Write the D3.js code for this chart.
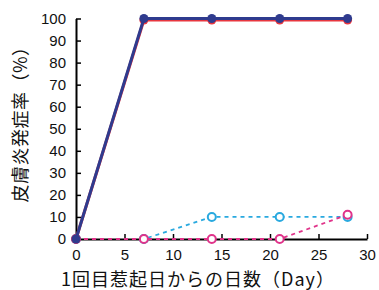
<!DOCTYPE html>
<html lang="ja">
<head>
<meta charset="UTF-8">
<title>chart</title>
<script src="https://d3js.org/d3.v7.min.js"></script>
<style>
  body { margin: 0; background: #fff; }
  text { font-family: "Liberation Sans", Arial, sans-serif; }
  .jp { font-family: "Noto Sans CJK JP", sans-serif; }
</style>
</head>
<body>
<svg id="chart" width="379" height="290"></svg>
<script>
  // days after first challenge
  const days = [0, 7, 14, 21, 28];
  // incidence (%) per group
  const navySeries = [0, 100, 100, 100, 100];
  const redSeries = [0, 99.3, 99.3, 99.3, 99.3];
  const cyanSeries = [0, 0, 10, 10, 10];
  const pinkSeries = [0, 0, 0, 0, 11];

  const xTicks = [0, 5, 10, 15, 20, 25, 30];
  const yTicks = [0, 10, 20, 30, 40, 50, 60, 70, 80, 90, 100];

  const svg = d3.select("#chart");
  const x = d3.scaleLinear().domain([0, 30]).range([76, 367]);
  const y = d3.scaleLinear().domain([0, 100]).range([239, 18.5]);

  // axes, ticks pointing inward
  svg.append("g")
    .attr("transform", "translate(0," + y(0) + ")")
    .call(d3.axisBottom(x).tickValues(xTicks).tickSizeInner(-5).tickSizeOuter(0).tickPadding(10))
    .call(g => g.select(".domain").attr("stroke-width", 2))
    .call(g => g.selectAll(".tick line").attr("stroke-width", 1.5))
    .call(g => g.selectAll("text").attr("font-size", 15).attr("fill", "#111"));

  svg.append("g")
    .attr("transform", "translate(" + x(0) + ",0)")
    .call(d3.axisLeft(y).tickValues(yTicks).tickSizeInner(-5).tickSizeOuter(0).tickPadding(10))
    .call(g => g.select(".domain").attr("stroke-width", 2))
    .call(g => g.selectAll(".tick line").attr("stroke-width", 1.5))
    .call(g => g.selectAll("text").attr("font-size", 15).attr("fill", "#111"));

  const line = d3.line().x(d => x(d[0])).y(d => y(d[1]));
  const pts = vals => days.map((d, i) => [d, vals[i]]);

  // dashed groups with open markers
  function dashed(vals, color) {
    svg.append("path").datum(pts(vals))
      .attr("d", line).attr("fill", "none")
      .attr("stroke", color).attr("stroke-width", 1.8)
      .attr("stroke-dasharray", "4,4");
    svg.append("g").selectAll("circle").data(pts(vals)).join("circle")
      .attr("cx", d => x(d[0])).attr("cy", d => y(d[1]))
      .attr("r", 4).attr("fill", "#fff")
      .attr("stroke", color).attr("stroke-width", 2);
  }
  dashed(cyanSeries, "#29a9df");
  dashed(pinkSeries, "#e0338a");

  // solid groups with filled markers
  function solid(vals, color) {
    svg.append("path").datum(pts(vals))
      .attr("d", line).attr("fill", "none")
      .attr("stroke", color).attr("stroke-width", 3);
    svg.append("g").selectAll("circle").data(pts(vals)).join("circle")
      .attr("cx", d => x(d[0])).attr("cy", d => y(d[1]))
      .attr("r", 4.5).attr("fill", color);
  }
  solid(redSeries, "#e8363f");
  solid(navySeries, "#2f3b8e");

  // titles
  svg.append("text").attr("class", "jp")
    .attr("x", 198).attr("y", 286)
    .attr("text-anchor", "middle").attr("font-size", 18).attr("letter-spacing", 1)
    .attr("fill", "#111")
    .text("1回目惹起日からの日数（Day）");

  svg.append("text").attr("class", "jp")
    .attr("transform", "translate(27,120) rotate(-90)")
    .attr("text-anchor", "middle").attr("font-size", 18).attr("letter-spacing", 0.5)
    .attr("fill", "#111")
    .text("皮膚炎発症率（%）");
</script>
</body>
</html>
